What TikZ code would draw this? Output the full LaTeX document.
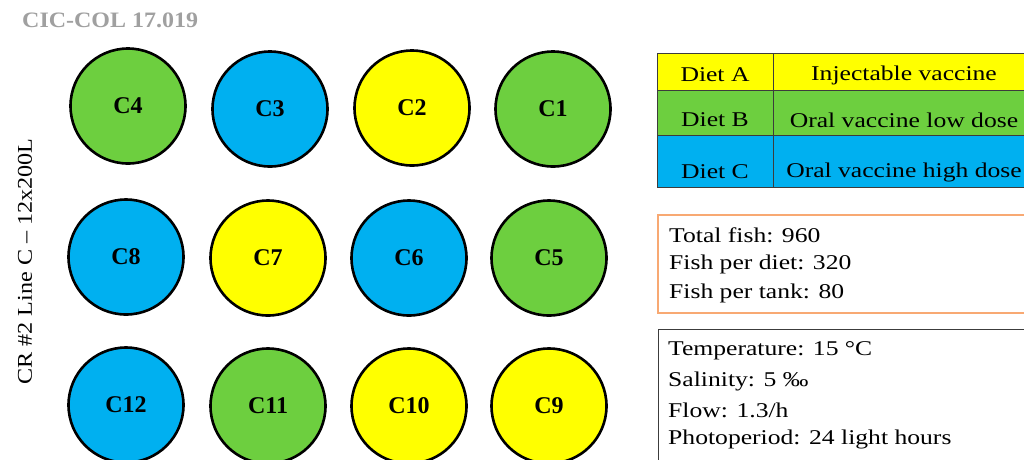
\documentclass[tikz,border=0pt]{standalone}
\usepackage{fontspec}
\setmainfont{Liberation Serif}
\newfontfamily\widefont{Liberation Serif}[FakeStretch=1.22]
\newfontfamily\titlefont{Liberation Serif}[FakeStretch=1.09]
\newfontfamily\sidefont{Liberation Serif}[FakeStretch=1.15]
\definecolor{tgreen}{RGB}{109,207,63}
\definecolor{tblue}{RGB}{0,176,240}
\definecolor{tyellow}{RGB}{255,255,0}
\definecolor{torange}{RGB}{248,169,115}
\definecolor{tgray}{RGB}{160,160,160}
\definecolor{tline}{RGB}{60,60,60}
\begin{document}
\begin{tikzpicture}[x=1pt,y=-1pt,
  tank/.style={circle, draw=black, line width=2.6pt, minimum size=115pt, inner sep=0pt,
    font=\fontsize{24}{24}\selectfont\bfseries},
  ga/.style={fill=tgreen}, bl/.style={fill=tblue}, ye/.style={fill=tyellow},
  cell/.style={draw=tline, line width=0.8pt},
  celltext/.style={font=\widefont\fontsize{21}{21}\selectfont, inner sep=0pt},
  info/.style={font=\widefont\fontsize{21}{21}\selectfont, anchor=west, inner sep=0pt}
]
\clip (0,0) rectangle (1024,459);
\fill[white] (0,0) rectangle (1024,459);
% title
\node[font=\titlefont\fontsize{22}{22}\selectfont\bfseries, text=tgray, anchor=west, inner sep=0pt] (title) at (22,20.5) {CIC-COL 17.019};
% side label
\node[font=\sidefont\fontsize{21}{21}\selectfont, rotate=90, inner sep=0pt] (side) at (25,261.5) {CR \#2 Line C – 12x200L};
% tanks
\node[tank,ga] (c4) at (128,106) {C4};
\node[tank,bl] (c3) at (270,109) {C3};
\node[tank,ye] (c2) at (412,108) {C2};
\node[tank,ga] (c1) at (553,109) {C1};
\node[tank,bl] (c8) at (126,257) {C8};
\node[tank,ye] (c7) at (268,258) {C7};
\node[tank,bl] (c6) at (409,258) {C6};
\node[tank,ga] (c5) at (549,258) {C5};
\node[tank,bl] (c12) at (126,405) {C12};
\node[tank,ga] (c11) at (268,406) {C11};
\node[tank,ye] (c10) at (409,406) {C10};
\node[tank,ye] (c9) at (549,406) {C9};
% legend table
\path[cell,fill=tyellow] (657,53) rectangle (773,90);
\path[cell,fill=tyellow] (773,53) rectangle (1040,90);
\path[cell,fill=tgreen] (657,90) rectangle (773,135);
\path[cell,fill=tgreen] (773,90) rectangle (1040,135);
\path[cell,fill=tblue] (657,135) rectangle (773,187);
\path[cell,fill=tblue] (773,135) rectangle (1040,187);
\node[celltext] (da) at (715,75) {Diet A};
\node[celltext] (va) at (904,75) {Injectable vaccine};
\node[celltext] (db) at (715,120) {Diet B};
\node[celltext] (vb) at (904,120) {Oral vaccine low dose};
\node[celltext] (dc) at (715,172) {Diet C};
\node[celltext] (vc) at (904,172) {Oral vaccine high dose};
% fish box
\draw[torange, line width=1.2pt] (658,215) rectangle (1040,313);
\node[info] (f1) at (669,235) {Total fish: 960};
\node[info] (f2) at (669,264) {Fish per diet: 320};
\node[info] (f3) at (669,293) {Fish per tank: 80};
% conditions box
\draw[tline, line width=1pt] (658,329) rectangle (1040,470);
\node[info] (p1) at (668,351) {Temperature: 15 °C};
\node[info] (p2) at (668,381) {Salinity: 5 ‰};
\node[info] (p3) at (668,410) {Flow: 1.3/h};
\node[info] (p4) at (668,439) {Photoperiod: 24 light hours};
\end{tikzpicture}
\end{document}
